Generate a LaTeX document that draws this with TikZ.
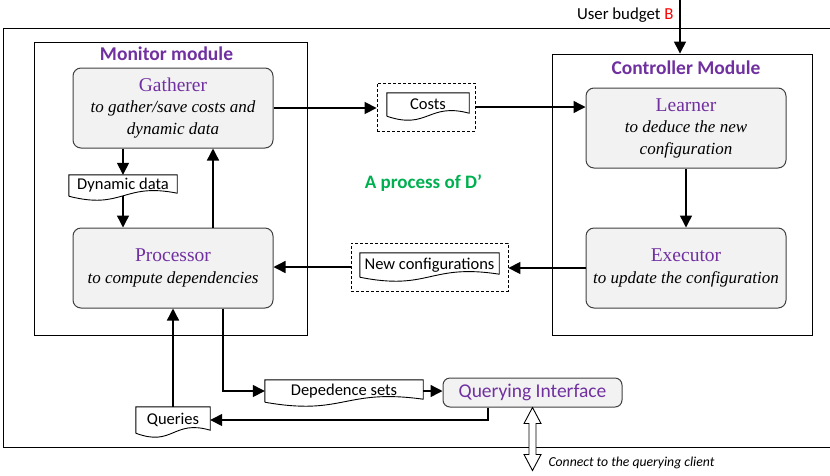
\documentclass[tikz,border=0pt]{standalone}
\usepackage{fontspec}
\setmainfont{Liberation Serif}
\setsansfont{Carlito}
\usetikzlibrary{arrows.meta}
\definecolor{modpurple}{HTML}{7030A0}
\definecolor{procgreen}{HTML}{00B050}
\definecolor{budgetred}{HTML}{FF0000}
\newcommand{\unitname}[1]{{\upshape\color{modpurple}\fontsize{19.5}{21.5}\selectfont #1}}

\begin{document}
\begin{tikzpicture}[x=1pt, y=-1pt, >={Triangle[length=12pt,width=12pt]},
    flow/.style={->, line width=1.4pt},
    module/.style={draw, line width=0.9pt},
    modtitle/.style={font=\sffamily\bfseries\fontsize{19.5}{22}\selectfont, text=modpurple},
    unit/.style={draw=black!75, line width=1pt, fill=gray!10, rounded corners=8pt,
      minimum width=200pt, minimum height=80pt, align=center,
      font=\fontsize{17}{21.5}\selectfont\itshape},
    doc/.style={font=\sffamily\fontsize{16.5}{18}\selectfont, inner sep=0pt, minimum height=23pt},
    holder/.style={draw, densely dashed, line width=0.8pt, minimum height=48pt}]
  \useasboundingbox (0,0) rectangle (830,475);
  % outer frame, open on the right
  \draw [line width=0.9pt] (832,28) -- (3,28) -- (3,447) -- (832,447);

  % the two modules
  \node (MM) [module, minimum width=273pt, minimum height=293pt] at (170.5,188.5) {};
  \node (CM) [module, minimum width=260pt, minimum height=281pt] at (682,194.5) {};
  \node (MMt) [modtitle] at (166.5,54) {Monitor module};
  \node (CMt) [modtitle] at (686,68) {Controller Module};

  \node (G) [unit] at (173,108) {\unitname{Gatherer}\\ to gather/save costs and\\ dynamic data};
  \node (P) [unit] at (173,268) {\unitname{Processor}\\ to compute dependencies};
  \node (L) [unit] at (686,128) {\unitname{Learner}\\ to deduce the new\\ configuration};
  \node (E) [unit] at (686,268) {\unitname{Executor}\\ to update the configuration};
  \node (QI) [unit, minimum width=179pt, minimum height=29pt, rounded corners=7pt,
    font=\sffamily\fontsize{19.5}{22}\selectfont, text=modpurple] at (532.5,392.5) {Querying Interface};

  % data documents
  \node (CObox) [holder, minimum width=98pt] at (426,107) {};
  \node (NCbox) [holder, minimum width=157pt] at (429.5,267) {};
  \node (DD) [doc, minimum width=108pt, minimum height=21pt] at (123,185.5) {Dynamic data};
  \node (CO) [doc, minimum width=82pt] at (428,104.5) {Costs};
  \node (NC) [doc, minimum width=139pt, minimum height=24pt] at (429.5,265) {New configurations};
  \node (DS) [doc, minimum width=158pt, minimum height=22pt] at (344,391) {Depedence sets};
  \node (QU) [doc, minimum width=74pt, minimum height=26pt] at (173,420) {Queries};
  \foreach \d in {DD,CO,NC,DS,QU}
    \draw [line width=0.9pt] (\d.south west) -- (\d.north west) -- (\d.north east)
      -- ([yshift=3pt]\d.south east) .. controls ([yshift=14pt]\d.south) and ([yshift=-14pt]\d.south) .. (\d.south west);

  \node (D) [font=\sffamily\bfseries\fontsize{19}{22}\selectfont, text=procgreen] at (423.5,183) {A process of D’};
  \node (UB) [anchor=east, font=\sffamily\fontsize{16.8}{19}\selectfont] at (677,15) {User budget \textcolor{budgetred}{B}};
  \coordinate (top) at (680,0);
  \node (CC) [anchor=west, font=\sffamily\itshape\fontsize{13.7}{16}\selectfont] at (545,463) {Connect to the querying client};

  % connectors
  \draw [flow] (top) to (top |- CM.north);
  \draw [flow] (G.east) to (G.east -| CObox.west);
  \draw [flow] (CObox.east) to (CObox.east -| L.west);
  \draw [flow] (L) to (E);
  \draw [flow] (E.west) to (E.west -| NCbox.east);
  \draw [flow] (NCbox.west) to (NCbox.west -| P.east);
  \draw [flow] (DD.north |- G.south) to (DD.north);
  \draw [flow] (DD.south) to (DD.south |- P.north);
  \draw [flow] ([xshift=40pt]P.north) to ([xshift=40pt]G.south);
  \draw [flow] ([xshift=50pt]P.south) |- (DS.west);
  \draw [flow] (DS.east) to (DS.east -| QI.west);
  \draw [flow] ([xshift=-44.5pt]QI.south) |- (QU.east);
  \draw [flow] (QU.north) to (P.south);
  \draw [line width=0.9pt, fill=white] (QI.south) -- ++(8.5,16) -- ++(-5,0) -- ++(0,31) -- ++(5,0)
    -- ++(-8.5,16) coordinate (client) -- ++(-8.5,-16) -- ++(5,0) -- ++(0,-31) -- ++(-5,0) -- cycle;
\end{tikzpicture}
\end{document}
